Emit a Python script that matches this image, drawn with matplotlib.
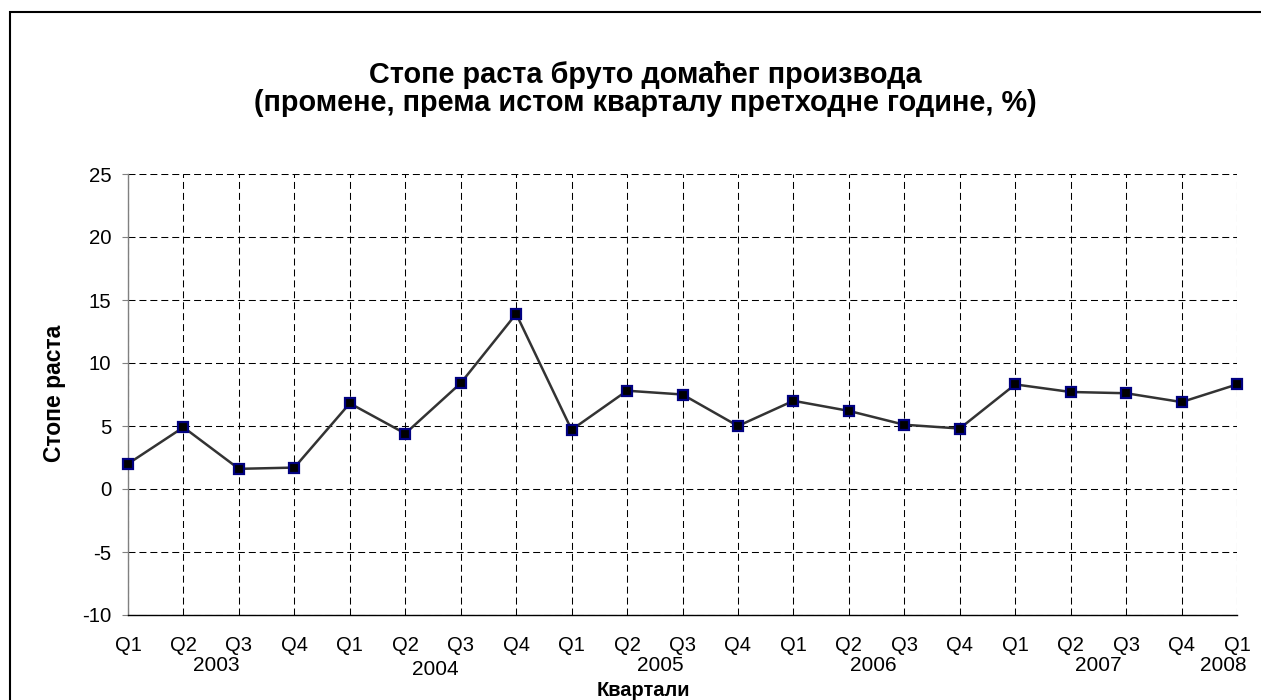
import matplotlib
matplotlib.use("Agg")
import matplotlib.pyplot as plt
from matplotlib.patches import Rectangle

plt.rcParams['font.family'] = ['Liberation Sans', 'DejaVu Sans']
plt.rcParams['axes.unicode_minus'] = False

quarters = ["Q1", "Q2", "Q3", "Q4", "Q1", "Q2", "Q3", "Q4", "Q1", "Q2", "Q3",
            "Q4", "Q1", "Q2", "Q3", "Q4", "Q1", "Q2", "Q3", "Q4", "Q1"]
growth = [2.0, 4.9, 1.6, 1.7, 6.8, 4.4, 8.4, 13.9, 4.7, 7.8, 7.5,
          5.0, 7.0, 6.2, 5.1, 4.8, 8.3, 7.7, 7.6, 6.9, 8.3]
years = ["2003", "2004", "2005", "2006", "2007", "2008"]
year_pos = [1.6, 5.55, 9.6, 13.45, 17.5, 19.75]
year_drop = [0, 4, 0, 0, 0, 0]

title = "Стопе раста бруто домаћег производа\n(промене, према истом кварталу претходне године, %)"
ylabel = "Стопе раста"
xlabel = "Квартали"

W, H = 1261, 700
fig = plt.figure(figsize=(W / 100, H / 100), dpi=100)
ax = fig.add_axes([128 / W, 1 - 615 / H, (1237 - 128) / W, (615 - 174) / H])

# outer chart border
fig.patches.append(Rectangle((10 / W, -0.05), 1.1, 1 - 12 / H + 0.05,
                             transform=fig.transFigure, fill=False,
                             edgecolor='black', linewidth=1.5, zorder=0))

x = list(range(len(growth)))
ax.plot(x, growth, color='#333333', linewidth=1.8, marker='s', markersize=7.5,
        markerfacecolor='black', markeredgecolor='#000080', markeredgewidth=1.6,
        zorder=5, clip_on=False)

ax.set_xlim(0, len(growth) - 1)
ax.set_ylim(-10, 25)
ax.set_yticks(range(-10, 26, 5))
ax.set_xticks(x)
ax.set_xticklabels(quarters)

ax.grid(True, color='black', linewidth=0.75, linestyle=(0, (6.7, 3.8)))
ax.set_axisbelow(True)

for s in ['top', 'right']:
    ax.spines[s].set_visible(False)
ax.spines['left'].set_color('#808080')
ax.spines['left'].set_linewidth(1.0)
ax.spines['bottom'].set_color('black')
ax.spines['bottom'].set_linewidth(1.0)

ax.tick_params(axis='y', length=4, width=0.8, color='#808080', pad=8, labelsize=14.7)
ax.tick_params(axis='x', length=0, pad=15, labelsize=14.5)

for yr, p, d in zip(years, year_pos, year_drop):
    ax.annotate(yr, xy=(p, 0), xycoords=('data', 'axes fraction'),
                xytext=(0, -36.5 - d * 0.72), textcoords='offset points',
                ha='center', va='center', fontsize=15)

fig.text(643 / W, 1 - 690 / H, xlabel, ha='center', va='center',
         fontsize=14.4, fontweight='bold')
fig.text(54 / W, 1 - 393 / H, ylabel, ha='center', va='center',
         rotation=90, fontsize=16.5, fontweight='bold')
fig.text(645 / W, 1 - 89 / H, title, ha='center', va='center',
         fontsize=20.8, fontweight='bold', linespacing=0.97)

fig.savefig("out.png", dpi=100)
